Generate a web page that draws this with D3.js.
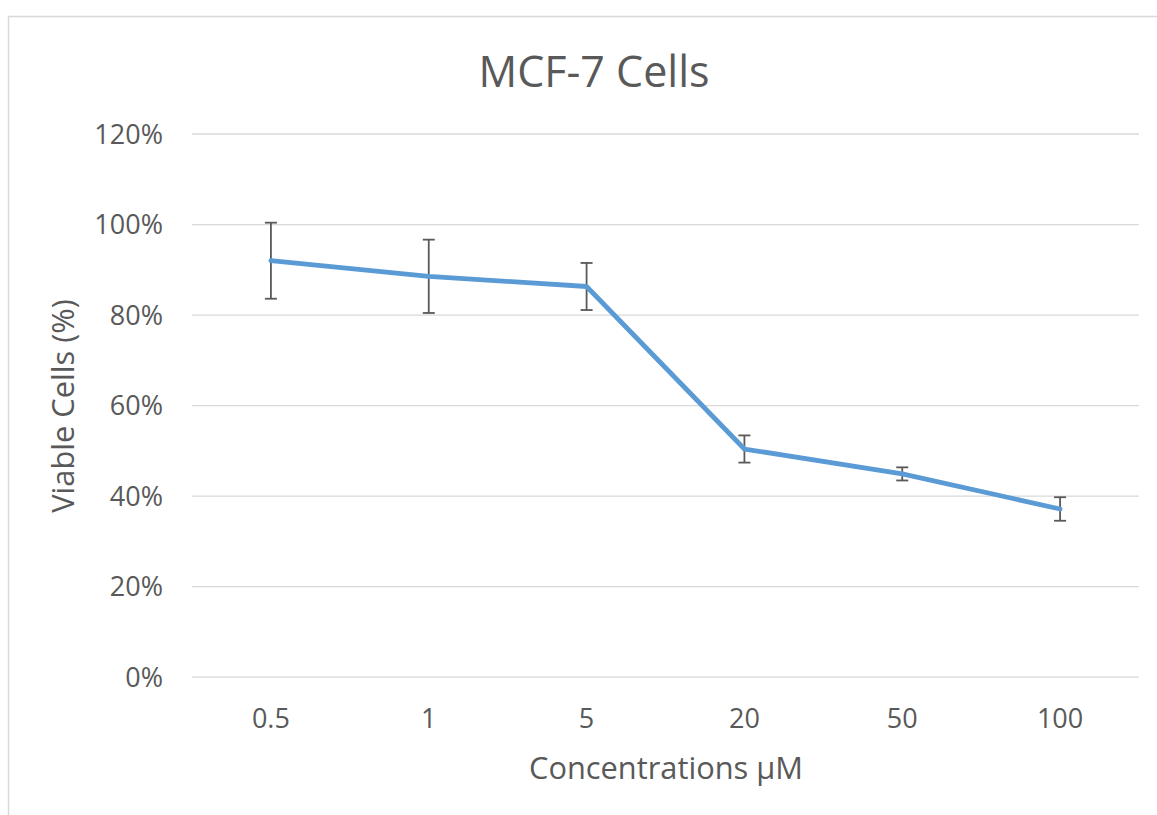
<!DOCTYPE html>
<html>
<head>
<meta charset="utf-8">
<script src="https://cdn.jsdelivr.net/npm/d3@7"></script>
<style>
  html, body { margin: 0; padding: 0; background: #fff; }
  svg { display: block; }
  text { font-family: "Open Sans", "Liberation Sans", sans-serif; fill: #595959; }
</style>
</head>
<body>
<svg id="chart" width="1157" height="815"></svg>
<script>
// Concentrations tested and mean viability with its error
const concentrations = ["0.5", "1", "5", "20", "50", "100"];
const viability = [91.9, 88.45, 86.2, 50.3, 44.8, 37.05];
const viabilityError = [8.4, 8.1, 5.2, 3.0, 1.45, 2.6];
const yTicks = [0, 20, 40, 60, 80, 100, 120];

const svg = d3.select("#chart");
const W = 1157, H = 815;
const plot = { left: 192, right: 1139, top: 133.5, bottom: 676.7 };

// Chart frame
svg.append("rect")
  .attr("x", 8.5).attr("y", 16.5)
  .attr("width", W + 20).attr("height", H + 20)
  .attr("fill", "none").attr("stroke", "#d9d9d9").attr("stroke-width", 1.5);

const x = d3.scaleBand().domain(concentrations).range([plot.left, plot.right]);
const y = d3.scaleLinear().domain([0, 120]).range([plot.bottom, plot.top]);
const cx = d => x(d) + x.bandwidth() / 2;

// Horizontal gridlines with percentage labels
const yAxis = d3.axisLeft(y).tickValues(yTicks)
  .tickSize(-(plot.right - plot.left)).tickPadding(29)
  .tickFormat(d => d + "%");
const gy = svg.append("g").attr("transform", `translate(${plot.left},0)`).call(yAxis);
gy.select(".domain").remove();
gy.selectAll(".tick line").attr("stroke", "#d9d9d9").attr("stroke-width", 1.3);
gy.selectAll(".tick text").attr("font-size", 27).attr("fill", "#595959")
  .attr("dy", "0.36em");

// Category labels along the bottom
const xAxis = d3.axisBottom(x).tickSize(0).tickPadding(0);
const gx = svg.append("g").attr("transform", `translate(0,${plot.bottom})`).call(xAxis);
gx.select(".domain").remove();
gx.selectAll(".tick text").attr("font-size", 27).attr("fill", "#595959")
  .attr("dy", null).attr("y", 51);

// Error bars
const eb = svg.append("g").attr("stroke", "#595959").attr("stroke-width", 1.8);
concentrations.forEach((c, i) => {
  const hi = y(viability[i] + viabilityError[i]);
  const lo = y(viability[i] - viabilityError[i]);
  eb.append("line").attr("x1", cx(c)).attr("x2", cx(c)).attr("y1", hi).attr("y2", lo);
  eb.append("line").attr("x1", cx(c) - 6).attr("x2", cx(c) + 6).attr("y1", hi).attr("y2", hi);
  eb.append("line").attr("x1", cx(c) - 6).attr("x2", cx(c) + 6).attr("y1", lo).attr("y2", lo);
});

// Viability line
const line = d3.line().x((d, i) => cx(concentrations[i])).y(d => y(d));
svg.append("path").datum(viability)
  .attr("d", line)
  .attr("fill", "none").attr("stroke", "#5b9bd5")
  .attr("stroke-width", 4.8).attr("stroke-linejoin", "round").attr("stroke-linecap", "round");

// Title and axis titles
svg.append("text").attr("x", 594).attr("y", 87).attr("text-anchor", "middle")
  .attr("font-size", 43).text("MCF-7 Cells");
svg.append("text").attr("x", 666).attr("y", 779).attr("text-anchor", "middle")
  .attr("font-size", 30.8).text("Concentrations µM");
svg.append("text").attr("transform", "translate(74,406) rotate(-90)")
  .attr("text-anchor", "middle").attr("font-size", 30.8).text("Viable Cells (%)");
</script>
</body>
</html>
